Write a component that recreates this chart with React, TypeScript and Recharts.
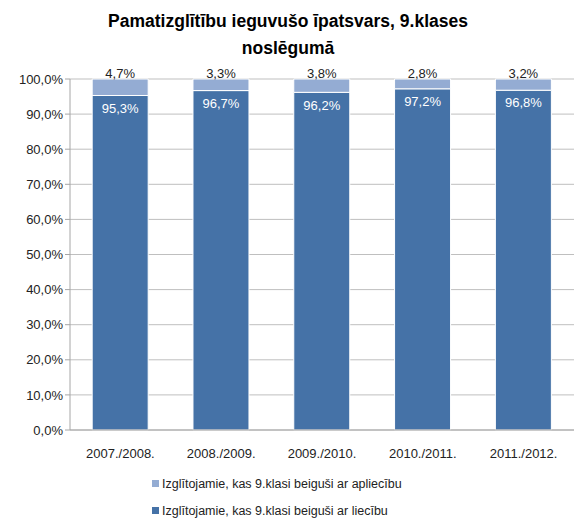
import React from 'react';
import { BarChart, Bar, XAxis, YAxis, CartesianGrid, LabelList, Legend } from 'recharts';

const years = ['2007./2008.', '2008./2009.', '2009./2010.', '2010./2011.', '2011./2012.'];
const withCertificate = [95.3, 96.7, 96.2, 97.2, 96.8];
const withNotice = [4.7, 3.3, 3.8, 2.8, 3.2];
const yTicks = [0, 10, 20, 30, 40, 50, 60, 70, 80, 90, 100];

const nameNotice = 'Izglītojamie, kas 9.klasi beiguši ar apliecību';
const nameCert = 'Izglītojamie, kas 9.klasi beiguši ar liecību';

const DARK = '#4572A7';
const LIGHT = '#94ACD3';
const FONT = '"Liberation Sans", Arial, sans-serif';

const fmt = (v: any) => Number(v).toFixed(1).replace('.', ',') + '%';

const data = years.map((year, i) => ({
  year,
  cert: withCertificate[i],
  notice: withNotice[i],
}));

function LegendBox() {
  const items = [
    { name: nameNotice, color: LIGHT },
    { name: nameCert, color: DARK },
  ];
  return (
    <div style={{ paddingLeft: 152, fontFamily: FONT, fontSize: 12.5, color: '#222' }}>
      {items.map((it) => (
        <div key={it.name} style={{ height: 27, display: 'flex', alignItems: 'center' }}>
          <span style={{ width: 7, height: 7, background: it.color, marginRight: 3, display: 'inline-block' }} />
          {it.name}
        </div>
      ))}
    </div>
  );
}

export default function App() {
  return (
    <div style={{ position: 'absolute', left: 0, top: 0, width: 576, height: 518, background: '#fff' }}>
      <div
        style={{
          position: 'absolute',
          top: 8,
          left: 0,
          width: 576,
          textAlign: 'center',
          fontFamily: FONT,
          fontWeight: 'bold',
          fontSize: 17.5,
          lineHeight: '27px',
          color: '#000',
        }}
      >
        Pamatizglītību ieguvušo īpatsvars, 9.klases
        <br />
        noslēgumā
      </div>
      <BarChart
        width={576}
        height={518}
        data={data}
        margin={{ top: 79, right: 2, bottom: 0, left: 0 }}
        barCategoryGap="22%"
      >
        <CartesianGrid vertical={false} stroke="#BFBFBF" />
        <XAxis
          dataKey="year"
          tickLine={false}
          axisLine={{ stroke: '#A6A6A6' }}
          tick={{ fill: '#222', fontSize: 13, fontFamily: FONT }}
          tickMargin={13}
          height={40}
        />
        <YAxis
          domain={[0, 100]}
          ticks={yTicks}
          tickFormatter={fmt}
          width={70}
          axisLine={{ stroke: '#A6A6A6' }}
          tickLine={{ stroke: '#A6A6A6' }}
          tickSize={5}
          tick={{ fill: '#222', fontSize: 13, fontFamily: FONT }}
        />
        <Legend
          verticalAlign="bottom"
          height={48}
          content={() => <LegendBox />}
        />
        <Bar dataKey="cert" name={nameCert} stackId="a" fill={DARK} stroke="#fff" strokeWidth={1} isAnimationActive={false}>
          <LabelList
            dataKey="cert"
            position="insideTop"
            offset={8}
            formatter={fmt}
            fill="#fff"
            style={{ fontSize: 13, fontFamily: FONT }}
          />
        </Bar>
        <Bar dataKey="notice" name={nameNotice} stackId="a" fill={LIGHT} stroke="#fff" strokeWidth={1} isAnimationActive={false}>
          <LabelList
            dataKey="notice"
            position="top"
            offset={1}
            formatter={fmt}
            fill="#222"
            style={{ fontSize: 13, fontFamily: FONT }}
          />
        </Bar>
      </BarChart>
    </div>
  );
}
